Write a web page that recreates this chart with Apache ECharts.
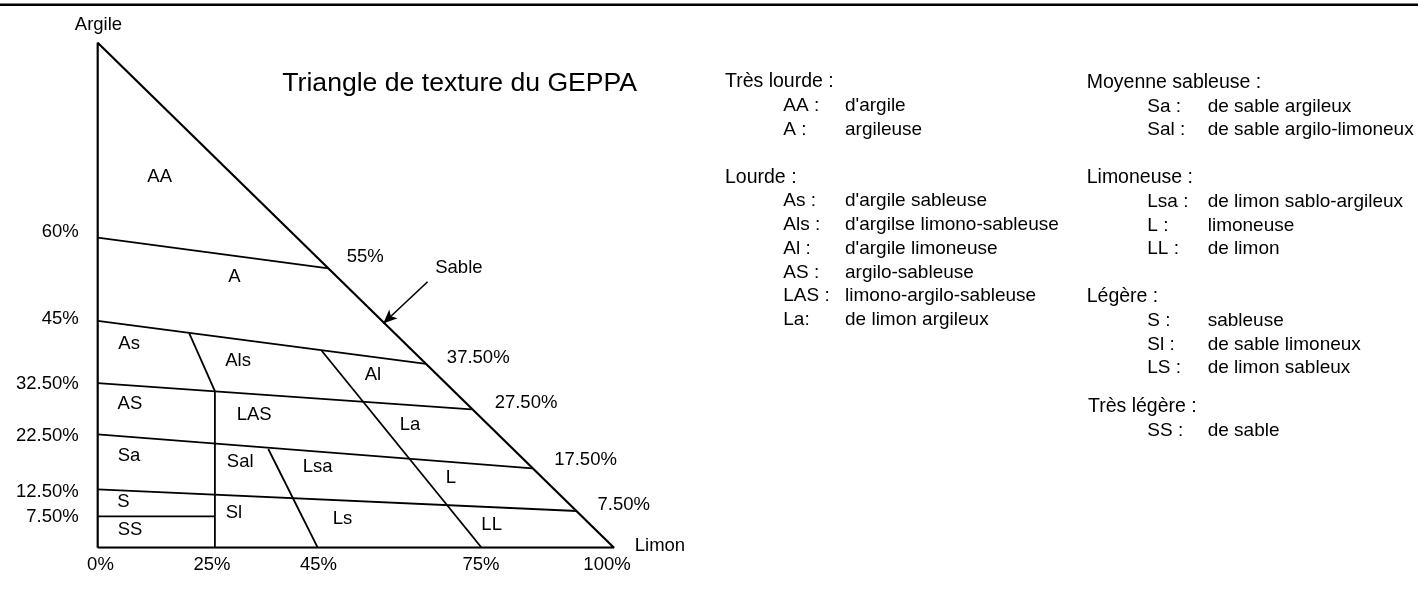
<!DOCTYPE html>
<html><head><meta charset="utf-8">
<script src="https://cdn.jsdelivr.net/npm/echarts@6/dist/echarts.min.js"></script>
<style>html,body{margin:0;padding:0;background:#fff}#c{width:1418px;height:608px}</style>
</head><body><div id="c"></div>
<script>
// ---- Data: x = Limon %, y = Argile % ----
const bTriangle = [[0,0],[0,100],[100,0],[0,0]];
const b60  = [[0,61.4],[44.7,55.3]];
const b45  = [[0,44.9],[63.6,36.4]];
const b325 = [[0,32.6],[72.4,27.4]];
const b225 = [[0,22.45],[84.2,15.7]];
const b125 = [[0,11.56],[92.8,7.27]];
const b75  = [[0,6.2],[22.7,6.2]];
const b25  = [[22.7,0],[22.7,31.0]];
const bAsAls  = [[17.74,42.46],[22.7,31.0]];
const bAlLa   = [[43.39,39.0],[74.37,0]];
const bSalLsa = [[33.04,19.54],[42.61,0]];
const arrowFrom = [63.9,52.67];
const arrowTo   = [55.3,44.4];

const regionCodes = ['AA','A','As','Als','Al','AS','LAS','La','Sa','Sal','Lsa','L','S','Sl','Ls','SS','LL'];
const regionX = [12.0,26.5,6.08,27.2,53.3,6.24,30.3,60.5,6.08,27.6,42.6,68.4,5.0,26.4,47.4,6.26,76.3];
const regionY = [73.5,53.6,40.3,37.0,34.3,28.5,26.2,24.3,18.2,17.0,16.0,13.9,9.05,6.8,5.8,3.5,4.6];

const xTickLabels = ['0%','25%','45%','75%','100%'];
const xTickPos    = [0.54,22.14,42.77,74.24,98.65];
const yTickLabels = ['60%','45%','32.50%','22.50%','12.50%','7.50%'];
const yTickPos    = [62.57,45.29,32.42,22.12,11.03,6.08];

const hypLabels = ['55%','37.50%','27.50%','17.50%','7.50%'];
const hypX = [51.8,73.7,82.96,94.48,101.9];
const hypY = [57.66,37.66,28.65,17.37,8.46];

const axisNames = ['Argile','Limon','Sable'];
const axisNameX = [0.15,108.9,69.96];
const axisNameY = [103.5,0.34,55.5];

const titleText = 'Triangle de texture du GEPPA';
const legendHeaders = ['Très lourde :','Lourde :','Moyenne sableuse :','Limoneuse :','Légère :','Très légère :'];
const legendTresLourde = [['AA :',"d'argile"],['A :','argileuse']];
const legendLourde = [['As :',"d'argile sableuse"],['Als :',"d'argilse limono-sableuse"],['Al :',"d'argile limoneuse"],['AS :','argilo-sableuse'],['LAS :','limono-argilo-sableuse'],['La:','de limon argileux']];
const legendMoyenne = [['Sa :','de sable argileux'],['Sal :','de sable argilo-limoneux']];
const legendLimoneuse = [['Lsa :','de limon sablo-argileux'],['L :','limoneuse'],['LL :','de limon']];
const legendLegere = [['S :','sableuse'],['Sl :','de sable limoneux'],['LS :','de limon sableux']];
const legendTresLegere = [['SS :','de sable']];

// ---- Build ----
const FF = "'Liberation Sans', Arial, sans-serif";
const chart = echarts.init(document.getElementById('c'), null, {renderer:'canvas'});

function nearestLabel(v, pos, labels){
  let bi = 0, bd = Infinity;
  pos.forEach((p,i)=>{const d=Math.abs(p-v); if(d<bd){bd=d;bi=i;}});
  return labels[bi];
}
function lineSeries(data, w){
  return {type:'line', data:data, symbol:'none', silent:true, animation:false,
    lineStyle:{color:'#000', width:w}, z:3};
}
function labelSeries(names, xs, ys, size){
  return {type:'scatter', clip:false, silent:true, animation:false, symbolSize:1,
    itemStyle:{color:'rgba(255,255,255,0)', opacity:1},
    data: names.map((n,i)=>({name:n, value:[xs[i], ys[i]]})),
    label:{show:true, position:[0.5,0.5], formatter:'{b}', color:'#000', opacity:1,
      textBorderWidth:0, textBorderColor:'transparent',
      fontSize:size, fontFamily:FF, align:'center', verticalAlign:'middle'}, z:4};
}

const graphics = [];
graphics.push({type:'line', shape:{x1:0,y1:4.8,x2:1418,y2:4.8}, style:{stroke:'#000', lineWidth:2.5}, silent:true});
graphics.push({type:'text', x:459.7, y:84, silent:true,
  style:{text:titleText, font:'26.6px '+FF, fill:'#000', textAlign:'center', textVerticalAlign:'middle'}});

const LH = 23.8;
function addGroup(header, items, x0, xc, xd, y0){
  graphics.push({type:'text', x:x0, y:y0, silent:true,
    style:{text:header, font:'19.5px '+FF, fill:'#000', textAlign:'left', textVerticalAlign:'middle'}});
  items.forEach((it,i)=>{
    const y = y0 + (i+1)*LH;
    graphics.push({type:'text', x:xc, y:y, silent:true,
      style:{text:it[0], font:'19px '+FF, fill:'#000', textAlign:'left', textVerticalAlign:'middle'}});
    graphics.push({type:'text', x:xd, y:y, silent:true,
      style:{text:it[1], font:'19px '+FF, fill:'#000', textAlign:'left', textVerticalAlign:'middle'}});
  });
}
addGroup(legendHeaders[0], legendTresLourde, 725, 783.3, 845, 82);
addGroup(legendHeaders[1], legendLourde, 725, 783.3, 845, 82+4*LH);
addGroup(legendHeaders[2], legendMoyenne, 1086.7, 1147.3, 1207.7, 82.5);
addGroup(legendHeaders[3], legendLimoneuse, 1086.7, 1147.3, 1207.7, 82.5+4*LH);
addGroup(legendHeaders[4], legendLegere, 1086.7, 1147.3, 1207.7, 82.5+9*LH);
addGroup(legendHeaders[5], legendTresLegere, 1088, 1147.3, 1207.7, 407);

const option = {
  animation:false,
  backgroundColor:'#fff',
  grid:{left:97.7, top:42.7, width:516.3, height:505, containLabel:false},
  xAxis:{type:'value', min:0, max:100,
    axisLine:{show:false}, axisTick:{show:false}, splitLine:{show:false},
    axisLabel:{customValues:xTickPos, formatter:v=>nearestLabel(v,xTickPos,xTickLabels),
      margin:8, fontSize:18.5, color:'#000', fontFamily:FF}},
  yAxis:{type:'value', min:0, max:100,
    axisLine:{show:false}, axisTick:{show:false}, splitLine:{show:false},
    axisLabel:{customValues:yTickPos, formatter:v=>nearestLabel(v,yTickPos,yTickLabels),
      margin:19, fontSize:18.5, color:'#000', fontFamily:FF}},
  series:[
    Object.assign(lineSeries(bTriangle, 2.2), {
      markLine:{silent:true, animation:false, symbol:['none','arrow'], symbolSize:[9,14],
        label:{show:false}, lineStyle:{color:'#000', width:1.6, type:'solid'},
        data:[[{coord:arrowFrom},{coord:arrowTo}]]}
    }),
    lineSeries(b60,1.8), lineSeries(b45,1.8), lineSeries(b325,1.8), lineSeries(b225,1.8),
    lineSeries(b125,1.8), lineSeries(b75,1.8), lineSeries(b25,1.8),
    lineSeries(bAsAls,1.8), lineSeries(bAlLa,1.8), lineSeries(bSalLsa,1.8),
    labelSeries(regionCodes, regionX, regionY, 18.5),
    labelSeries(hypLabels, hypX, hypY, 18.5),
    labelSeries(axisNames, axisNameX, axisNameY, 18.5)
  ],
  graphic:graphics
};
chart.setOption(option);
</script></body></html>
